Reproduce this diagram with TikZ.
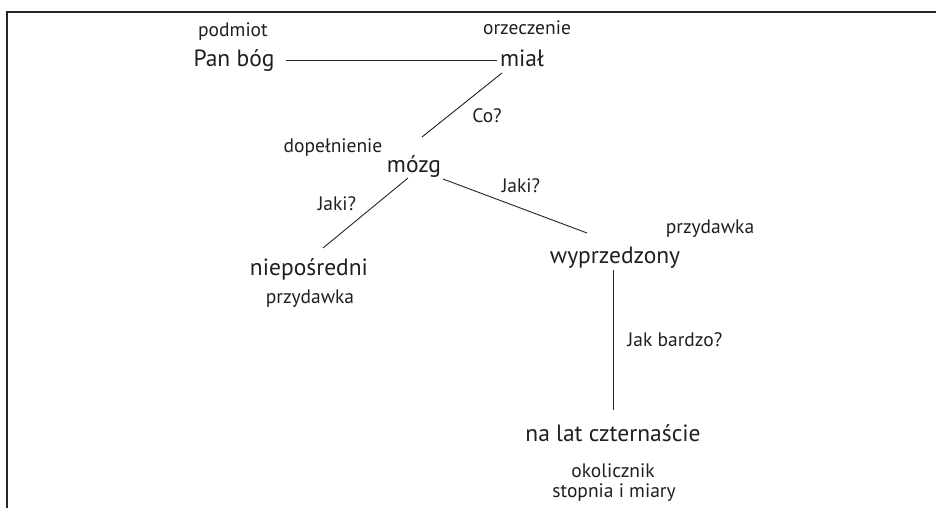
\documentclass[tikz,border=0pt]{standalone}
\usepackage{fontspec}
\setmainfont{PT Sans}
\begin{document}
\begin{tikzpicture}[x=1pt,y=-1pt,
  big/.style={inner sep=0pt,anchor=base,font=\fontsize{23.5}{26}\selectfont,text=black!88},
  small/.style={inner sep=0pt,anchor=base,font=\fontsize{19.5}{22}\selectfont,text=black!88},
  edge/.style={line width=0.9pt,black!85}]
\useasboundingbox (0,0) rectangle (936,508);
\draw[line width=1.6pt,black!85] (7,508) -- (7,12) -- (936,12);
% labels
\node[small] (lpod) at (233,37) {podmiot};
\node[big] (pan) at (234,67) {Pan bóg};
\node[small] (lorz) at (527,35) {orzeczenie};
\node[big] (mial) at (522,67) {miał};
\node[small] (lco) at (487,123) {Co?};
\node[small] (ldop) at (333,152) {dopełnienie};
\node[big] (mozg) at (414,172) {mózg};
\node[small] (ljak1) at (337,210) {Jaki?};
\node[small] (ljak2) at (521,192) {Jaki?};
\node[big] (niep) at (309,275) {niepośredni};
\node[small] (lprz1) at (310,303) {przydawka};
\node[big] (wyp) at (615,263) {wyprzedzony};
\node[small] (lprz2) at (710,233) {przydawka};
\node[small] (ljb) at (675,346) {Jak bardzo?};
\node[big] (nalat) at (613,441) {na lat czternaście};
\node[small] (lok) at (613,477) {okolicznik};
\node[small] (lst) at (614,497) {stopnia i miary};
% connectors
\coordinate (a1) at (286,60); \coordinate (a2) at (497,60);
\coordinate (b1) at (502,73); \coordinate (b2) at (422,137);
\coordinate (c1) at (408,178); \coordinate (c2) at (323,248);
\coordinate (d1) at (443,179); \coordinate (d2) at (587,233);
\coordinate (e1) at (613,270); \coordinate (e2) at (613,410);
\draw[edge] (a1) -- (a2);
\draw[edge] (b1) -- (b2);
\draw[edge] (c1) -- (c2);
\draw[edge] (d1) -- (d2);
\draw[edge] (e1) -- (e2);
\end{tikzpicture}
\end{document}
